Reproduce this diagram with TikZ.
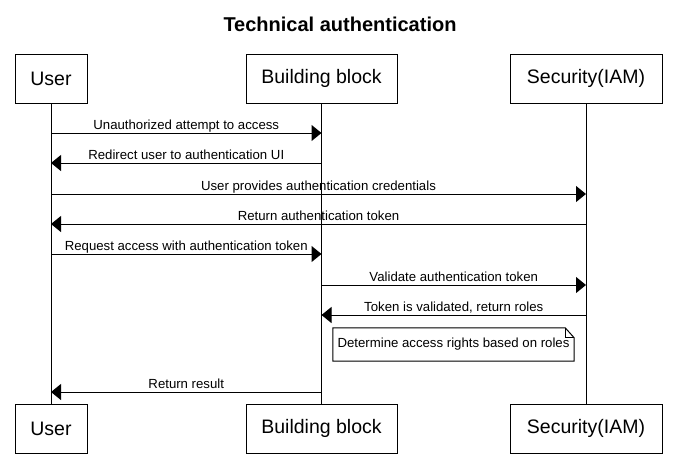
\documentclass[tikz,border=0pt]{standalone}
\usepackage{fontspec}
\setmainfont{Liberation Sans}
\usetikzlibrary{arrows.meta}

\tikzset{
  actor/.style={draw, line width=1pt, minimum height=49pt, inner sep=0pt, font=\fontsize{19.5}{22}\selectfont},
  msg/.style={line width=1pt, -{Triangle[length=10pt,width=16pt]}},
  lbl/.style={anchor=base, yshift=4pt, inner sep=0pt, font=\fontsize{13.2}{15}\selectfont}
}

\begin{document}
\begin{tikzpicture}[x=1pt, y=-1pt]
  \useasboundingbox (0,0) rectangle (676,464);

  \node[anchor=base, font=\bfseries\fontsize{20}{24}\selectfont] (title) at (340,31) {Technical authentication};

  % participants
  \node[actor, minimum width=72pt] (usr) at (51,78.5) {User};
  \node[actor, minimum width=151pt] (bb) at (321.5,78.5) {Building block};
  \node[actor, minimum width=152pt] (iam) at (586,78.5) {Security(IAM)};

  \node[actor, minimum width=72pt] (usrB) at (51,428.5) {User};
  \node[actor, minimum width=151pt] (bbB) at (321.5,428.5) {Building block};
  \node[actor, minimum width=152pt] (iamB) at (586,428.5) {Security(IAM)};

  % lifelines
  \draw[line width=1pt] (usr) -- (usrB);
  \draw[line width=1pt] (bb) -- (bbB);
  \draw[line width=1pt] (iam) -- (iamB);

  % messages
  \draw[msg] (usr |- 0,133) -- node[lbl] {Unauthorized attempt to access} (bb |- 0,133);
  \draw[msg] (bb |- 0,163) -- node[lbl] {Redirect user to authentication UI} (usr |- 0,163);
  \draw[msg] (usr |- 0,194) -- node[lbl] {User provides authentication credentials} (iam |- 0,194);
  \draw[msg] (iam |- 0,224) -- node[lbl] {Return authentication token} (usr |- 0,224);
  \draw[msg] (usr |- 0,254) -- node[lbl] {Request access with authentication token} (bb |- 0,254);
  \draw[msg] (bb |- 0,285) -- node[lbl] {Validate authentication token} (iam |- 0,285);
  \draw[msg] (iam |- 0,315) -- node[lbl] {Token is validated, return roles} (bb |- 0,315);

  % note
  \node[minimum width=241pt, minimum height=33pt, inner sep=0pt] (note) at (453.5,344.5) {};
  \draw[line width=1pt, fill=white] (note.south west) -- (note.north west) -- ([xshift=-9pt]note.north east)
    -- ([yshift=-10pt]note.north east) -- (note.south east) -- cycle;
  \draw[line width=1pt] ([xshift=-9pt]note.north east) |- ([yshift=-10pt]note.north east);
  \node[font=\fontsize{13.2}{15}\selectfont] (notetext) at (note) {Determine access rights based on roles};

  \draw[msg] (bb |- 0,392) -- node[lbl] {Return result} (usr |- 0,392);
\end{tikzpicture}
\end{document}
